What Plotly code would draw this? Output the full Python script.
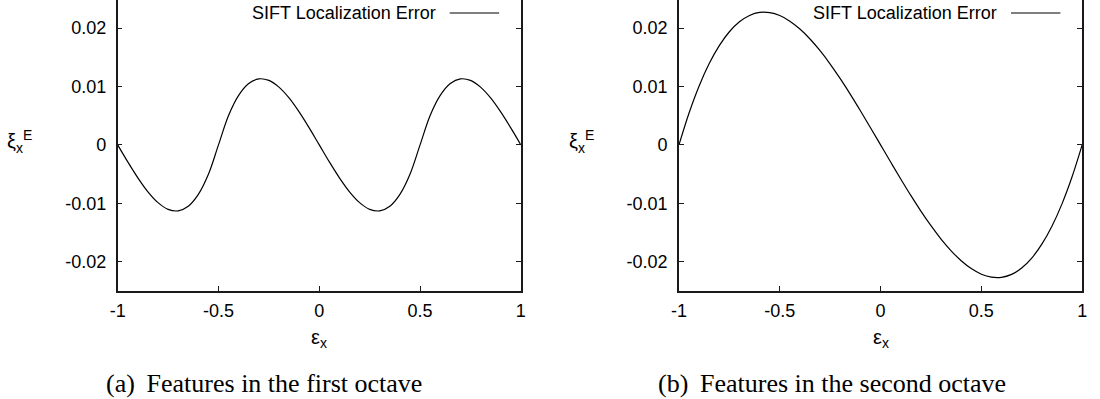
import plotly.graph_objects as go

# ---- data ----
x_vals = [-1.0, -0.95, -0.9, -0.85, -0.8, -0.75, -0.7, -0.65, -0.6, -0.55, -0.5,
          -0.45, -0.4, -0.35, -0.3, -0.25, -0.2, -0.15, -0.1, -0.05, 0.0,
          0.05, 0.1, 0.15, 0.2, 0.25, 0.3, 0.35, 0.4, 0.45, 0.5,
          0.55, 0.6, 0.65, 0.7, 0.75, 0.8, 0.85, 0.9, 0.95, 1.0]

err_first_octave = [0.0, -0.00291, -0.00564, -0.00803, -0.00988, -0.01103, -0.01129, -0.0105, -0.00847, -0.00503, 0.0,
                    0.00503, 0.00847, 0.0105, 0.01129, 0.01103, 0.00988, 0.00803, 0.00564, 0.00291, 0.0,
                    -0.00291, -0.00564, -0.00803, -0.00988, -0.01103, -0.01129, -0.0105, -0.00847, -0.00503, 0.0,
                    0.00503, 0.00847, 0.0105, 0.01129, 0.01103, 0.00988, 0.00803, 0.00564, 0.00291, 0.0]

err_second_octave = [0.0, 0.00546, 0.01009, 0.01392, 0.01699, 0.01936, 0.02106, 0.02215, 0.02266, 0.02263, 0.02213,
                     0.02117, 0.01982, 0.01812, 0.01611, 0.01383, 0.01133, 0.00865, 0.00584, 0.00294, 0.0,
                     -0.00294, -0.00584, -0.00865, -0.01133, -0.01383, -0.01611, -0.01812, -0.01982, -0.02117, -0.02213,
                     -0.02263, -0.02266, -0.02215, -0.02106, -0.01936, -0.01699, -0.01392, -0.01009, -0.00546, 0.0]

x_ticks = [-1, -0.5, 0, 0.5, 1]
x_tick_labels = ["-1", "-0.5", "0", "0.5", "1"]
y_ticks = [-0.02, -0.01, 0, 0.01, 0.02]
y_tick_labels = ["-0.02", "-0.01", "0", "0.01", "0.02"]

series_name = "SIFT Localization Error"
captions = ["(a)\u2009 Features in the first octave", "(b)\u2009 Features in the second octave"]

# ---- layout geometry (pixels) ----
W, H = 1100, 399
PLOT_BOTTOM = 291
panels = [(111, 519), (679, 1087)]

SANS = "Liberation Sans, Arial, sans-serif"
SERIF = "Liberation Serif, Times New Roman, serif"
LINE_COLOR = "#1a1a1a"

def px(xp):
    return xp / W

def py(yp):
    return (PLOT_BOTTOM - yp) / PLOT_BOTTOM

fig = go.Figure()

series = [err_first_octave, err_second_octave]
for i, ys in enumerate(series):
    sfx = "" if i == 0 else "2"
    fig.add_trace(go.Scatter(x=x_vals, y=ys, mode="lines", name=series_name,
                             line=dict(color="black", width=1.2, shape="spline", smoothing=1.0),
                             xaxis="x" + sfx, yaxis="y" + sfx, showlegend=False))

y_range = [-0.025, 0.02479]

layout = dict(width=W, height=H, margin=dict(l=0, r=0, t=0, b=H - PLOT_BOTTOM),
              paper_bgcolor="white", plot_bgcolor="white", showlegend=False,
              font=dict(family=SANS, size=18, color="black"))

annotations = []
shapes = []
for i, (x0, x1) in enumerate(panels):
    sfx = "" if i == 0 else str(i + 1)
    top_sfx = str(i + 3)
    dom = [px(x0), px(x1)]
    layout["xaxis" + sfx] = dict(domain=dom, range=[-1, 1], anchor="y" + sfx,
                                 tickvals=x_ticks, ticktext=x_tick_labels,
                                 ticks="inside", ticklen=5, tickwidth=1, tickcolor=LINE_COLOR,
                                 showline=True, linewidth=1.5, linecolor=LINE_COLOR, mirror=False,
                                 showgrid=False, zeroline=False, ticklabelstandoff=3,
                                 tickfont=dict(family=SANS, size=18, color="black"))
    layout["yaxis" + sfx] = dict(domain=[0, 1], range=y_range, anchor="x" + sfx,
                                 tickvals=y_ticks, ticktext=y_tick_labels,
                                 ticks="inside", ticklen=5, tickwidth=1, tickcolor=LINE_COLOR,
                                 showline=True, linewidth=1.5, linecolor=LINE_COLOR, mirror="ticks",
                                 showgrid=False, zeroline=False, ticklabelstandoff=6,
                                 tickfont=dict(family=SANS, size=18, color="black"))
    # top ticks (frame top lies just above the visible area)
    layout["xaxis" + top_sfx] = dict(domain=dom, range=[-1, 1], overlaying="x" + sfx, side="top",
                                     anchor="y" + sfx, tickvals=x_ticks, ticks="inside", ticklen=4,
                                     tickwidth=1, tickcolor=LINE_COLOR, showticklabels=False,
                                     showline=False, showgrid=False, zeroline=False)
    # legend entry: text then line sample
    off = x0 - panels[0][0]
    annotations.append(dict(text=series_name, xref="paper", yref="paper",
                            x=px(435 + off), y=py(13), xanchor="right", yanchor="middle",
                            showarrow=False, font=dict(family=SANS, size=18, color="black")))
    shapes.append(dict(type="line", xref="paper", yref="paper",
                       x0=px(447 + off), x1=px(497 + off), y0=py(13), y1=py(13),
                       line=dict(color="black", width=1.2)))
    # axis titles
    cx = (x0 + x1) / 2
    annotations.append(dict(text="ε<sub>x</sub>", xref="paper", yref="paper",
                            x=px(cx), y=py(338), xanchor="center", yanchor="middle",
                            showarrow=False, font=dict(family=SANS, size=20, color="black")))
    annotations.append(dict(text="ξ<sub>x</sub><sup>E</sup>", xref="paper", yref="paper",
                            x=px(x0 - 99), y=py(141), xanchor="center", yanchor="middle",
                            showarrow=False, font=dict(family=SANS, size=20, color="black")))
    # caption
    cap_cx = [259, 834][i]
    annotations.append(dict(text=captions[i], xref="paper", yref="paper",
                            x=px(cap_cx), y=py(383), xanchor="center", yanchor="middle",
                            showarrow=False, font=dict(family=SERIF, size=26, color="black")))

layout["annotations"] = annotations
layout["shapes"] = shapes
fig.update_layout(**layout)

fig.write_html("out.html")
